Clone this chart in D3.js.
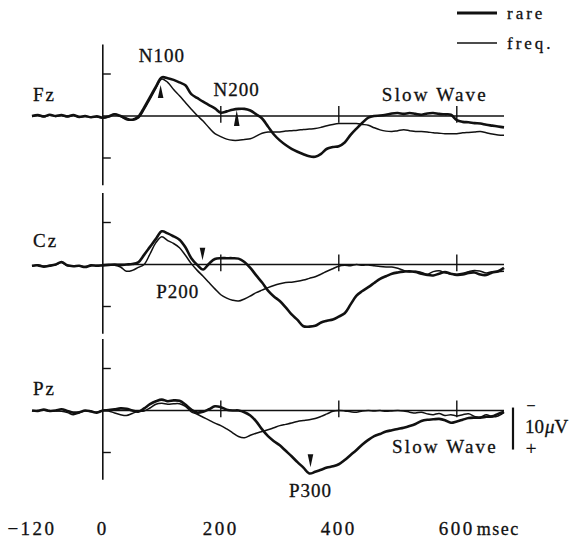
<!DOCTYPE html>
<html>
<head>
<meta charset="utf-8">
<script src="https://cdn.jsdelivr.net/npm/d3@7"></script>
<style>
  html, body { margin: 0; padding: 0; background: #fff; }
  svg text { font-family: 'Liberation Serif', 'Times New Roman', serif; fill: #111; stroke: #111; stroke-width: 0.3px; }
</style>
</head>
<body>
<div id="chart"></div>
<script>
// Sample times (msec) shared by every trace.
const timesMs = [-120, -110, -100, -90, -80, -70, -60, -50, -40, -30, -20, -10,
  0, 10, 20, 30, 40, 50, 60, 70, 80, 90,
  100, 110, 120, 130, 140, 150, 160, 170, 180, 190,
  200, 210, 220, 230, 240, 250, 260, 270, 280, 290,
  300, 310, 320, 330, 340, 350, 360, 370, 380, 390,
  400, 410, 420, 430, 440, 450, 460, 470, 480, 490,
  500, 510, 520, 530, 540, 550, 560, 570, 580, 590,
  600, 610, 620, 630, 640, 650, 660, 670, 680];

// Amplitudes in microvolts (negative up).
const fzRare = [0.0, -0.2, 0.1, -0.3, 0.0, -0.2, 0.1, -0.2, 0.2, 0.0, 0.3, 0.1,
  0.4, 0.1, -0.4, 0.0, 0.6, 0.9, 0.2, -2.0, -4.5, -7.0,
  -9.2, -9.0, -8.6, -8.0, -7.3, -5.2, -4.3, -3.4, -2.6, -1.8,
  -0.8, -1.1, -1.5, -1.7, -1.7, -1.3, -0.4, 0.6, 2.5, 4.4,
  5.8, 6.9, 7.8, 8.5, 9.1, 9.6, 9.7, 9.0, 7.8, 7.4,
  7.2, 6.3, 4.5, 3.0, 1.6, 0.4, 0.0, -0.1, -0.3, -0.6,
  -0.7, -0.5, -0.7, -0.5, -0.3, -0.6, -0.7, -0.5, -0.4, -0.3,
  1.0, 1.4, 1.5, 1.7, 1.8, 2.1, 2.3, 2.5, 2.7];
const fzFreq = [0.1, -0.1, 0.2, -0.2, 0.1, -0.1, 0.2, -0.1, 0.3, 0.1, 0.2, 0.2,
  0.5, 0.2, -0.5, 0.1, 0.9, 1.0, 0.5, -1.5, -4.0, -6.6,
  -8.8, -8.0, -6.3, -4.8, -3.2, -1.6, -0.1, 1.2, 2.8, 4.2,
  4.9, 5.5, 5.8, 5.8, 5.6, 5.4, 4.8, 4.1, 3.8, 3.8,
  3.8, 3.6, 3.5, 3.4, 3.2, 3.1, 3.0, 2.7, 2.3, 2.0,
  1.8, 1.8, 1.8, 1.8, 2.0, 2.2, 2.8, 3.3, 3.6, 3.7,
  3.5, 3.3, 3.5, 3.7, 3.7, 3.8, 4.0, 4.1, 4.2, 4.2,
  4.2, 4.0, 3.9, 3.8, 3.7, 4.0, 4.3, 4.5, 4.6];
const czRare = [0.3, 0.2, 0.5, 0.3, 0.0, -0.6, 0.2, 0.4, 0.3, 0.6, 0.2, 0.3,
  0.2, 0.1, 0.0, 0.1, 0.0, -0.1, -0.5, -2.3, -4.2, -6.1,
  -7.9, -7.4, -6.7, -5.9, -4.1, -1.5, 0.1, 1.2, -0.2, -1.3,
  -1.5, -1.5, -1.5, -1.4, -0.6, 0.8, 2.6, 4.3, 6.2, 7.6,
  8.7, 10.2, 11.9, 13.2, 14.7, 14.8, 14.6, 13.8, 13.4, 13.1,
  12.4, 11.6, 9.5, 7.4, 6.3, 5.4, 4.4, 3.4, 2.8, 2.2,
  1.9, 1.7, 1.6, 1.8, 2.2, 2.5, 2.6, 2.2, 1.8, 2.2,
  2.5, 2.4, 2.0, 1.9, 2.4, 2.5, 1.9, 1.6, 0.8];
const czFreq = [0.4, 0.1, 0.4, 0.2, 0.1, -0.5, 0.3, 0.3, 0.4, 0.5, 0.3, 0.2,
  0.2, 0.1, 0.2, 0.6, 1.6, 1.4, 0.7, 0.0, -2.5, -5.2,
  -6.6, -5.7, -5.0, -4.0, -2.2, -0.2, 1.4, 2.8, 4.3, 5.8,
  7.2, 8.0, 8.5, 8.7, 8.2, 7.5, 6.7, 6.1, 5.5, 5.0,
  4.6, 4.3, 4.2, 4.0, 3.7, 3.3, 2.9, 2.3, 1.6, 1.0,
  0.4, 0.2, 0.3, 0.0, 0.2, 0.1, 0.3, 0.5, 0.6, 0.6,
  0.9, 1.4, 1.8, 1.6, 1.9, 2.3, 1.7, 1.5, 2.0, 2.3,
  2.3, 2.1, 1.7, 1.4, 1.6, 2.0, 1.7, 1.7, 1.6];
const pzRare = [0.0, 0.1, -0.2, 0.1, 0.0, -0.3, 0.1, 0.5, 0.4, 0.0, 0.2, 0.5,
  0.0, -0.1, -0.3, -0.5, -0.4, 0.0, 0.3, -0.5, -1.5, -2.2,
  -2.6, -2.2, -2.4, -2.3, -1.4, -0.2, 0.5, 0.3, -0.3, -1.0,
  -0.8, -0.2, 0.0, 0.0, 0.4, 1.2, 2.6, 4.5, 6.1, 7.3,
  8.3, 9.6, 10.9, 12.3, 13.6, 15.0, 14.6, 14.1, 13.6, 13.3,
  12.8, 11.8, 10.6, 9.4, 8.1, 7.0, 6.1, 5.6, 5.0, 4.7,
  4.4, 4.1, 3.7, 3.2, 2.5, 2.2, 2.1, 2.0, 2.3, 2.9,
  2.6, 2.2, 1.8, 1.7, 1.7, 1.5, 1.4, 0.8, 0.3];
const pzFreq = [0.1, 0.0, -0.1, 0.2, 0.1, 0.2, 0.5, 1.0, 0.6, 0.1, 0.3, 0.4,
  0.0, 0.1, 0.6, 1.0, 1.2, 0.7, 0.2, 0.1, -0.6, -1.5,
  -1.7, -1.5, -1.6, -1.6, -1.0, 0.3, 0.9, 1.6, 2.3, 3.0,
  3.6, 4.4, 5.3, 6.2, 6.5, 5.9, 5.4, 5.0, 4.6, 4.1,
  3.6, 3.3, 3.0, 2.6, 2.4, 2.2, 1.9, 1.4, 0.8, 0.2,
  0.0, 0.1, 0.3, 0.4, 0.1, 0.0, 0.1, 0.0, 0.2, 0.1,
  0.0, 0.1, 0.4, 0.6, 0.4, 0.8, 1.0, 0.7, 1.2, 1.0,
  1.3, 1.0, 0.8, 1.4, 1.6, 1.0, 1.5, 1.3, 0.5];

const channels = ['Fz', 'Cz', 'Pz'];
const conditions = ['rare', 'freq.'];
const xTickValues = [-120, 0, 200, 400, 600];
const xTickLabels = ['\u2212120', '0', '200', '400', '600'];
const xUnit = 'msec';
const baselineTicks = [200, 400, 600];
const yTickValues = [-10, 10];
const scaleBarUv = 10;

// Component labels, anchored in msec / microvolts of their channel.
const peakLabels = [
  { channel: 'Fz', text: 'N100', t: 100, v: -12.9, anchor: 'middle' },
  { channel: 'Fz', text: 'N200', t: 227, v: -4.8, anchor: 'middle' },
  { channel: 'Fz', text: 'Slow Wave', t: 473, v: -3.6, anchor: 'start' },
  { channel: 'Cz', text: 'P200', t: 127, v: 8.0, anchor: 'middle' },
  { channel: 'Pz', text: 'P300', t: 352, v: 20.6, anchor: 'middle' },
  { channel: 'Pz', text: 'Slow Wave', t: 490, v: 10.1, anchor: 'start' }
];
const peakArrows = [
  { channel: 'Fz', t: 98, tip: -7.4, base: -4.3 },
  { channel: 'Fz', t: 227, tip: -1.4, base: 2.4 },
  { channel: 'Cz', t: 169, tip: -1.0, base: -4.0 },
  { channel: 'Pz', t: 352, tip: 13.5, base: 10.4 }
];

const traces = {
  Fz: [fzRare, fzFreq],
  Cz: [czRare, czFreq],
  Pz: [pzRare, pzFreq]
};

function chart() {
  const attrs = {
    container: '#chart',
    svgWidth: 573,
    svgHeight: 538,
    xRange: [32, 504],
    baselines: [116, 264.5, 410.5],
    pxPerUv: 4.2,
    axisExtent: [-17, 16.5],
    ink: '#111',
    strokeWidths: [2.6, 1.5],
    fontSize: 19
  };

  const svg = d3.select(attrs.container)
    .append('svg')
    .attr('width', attrs.svgWidth)
    .attr('height', attrs.svgHeight);

  const x = d3.scaleLinear()
    .domain([timesMs[0], timesMs[timesMs.length - 1]])
    .range(attrs.xRange);

  const yScales = {};
  channels.forEach((ch, i) => {
    const b = attrs.baselines[i];
    yScales[ch] = d3.scaleLinear()
      .domain([-10, 10])
      .range([b - 10 * attrs.pxPerUv, b + 10 * attrs.pxPerUv]);
  });

  channels.forEach((ch) => {
    const y = yScales[ch];
    const g = svg.append('g').attr('class', 'channel-' + ch);

    // Zero line with time marks.
    g.append('line')
      .attr('x1', x(0)).attr('x2', x(timesMs[timesMs.length - 1]))
      .attr('y1', y(0)).attr('y2', y(0))
      .attr('stroke', attrs.ink).attr('stroke-width', 1.3);

    g.selectAll('.t-tick').data(baselineTicks).enter().append('line')
      .attr('class', 't-tick')
      .attr('x1', d => x(d)).attr('x2', d => x(d))
      .attr('y1', y(-2.4)).attr('y2', y(1.6))
      .attr('stroke', attrs.ink).attr('stroke-width', 1.4);

    // Amplitude axis at stimulus onset.
    g.append('line')
      .attr('x1', x(0)).attr('x2', x(0))
      .attr('y1', y(attrs.axisExtent[0])).attr('y2', y(attrs.axisExtent[1]))
      .attr('stroke', attrs.ink).attr('stroke-width', 1.6);

    g.selectAll('.v-tick').data(yTickValues).enter().append('line')
      .attr('class', 'v-tick')
      .attr('x1', x(0)).attr('x2', x(0) + 8)
      .attr('y1', d => y(d)).attr('y2', d => y(d))
      .attr('stroke', attrs.ink).attr('stroke-width', 1.4);

    const line = d3.line()
      .x((d, i) => x(timesMs[i]))
      .y(d => y(d))
      .curve(d3.curveCatmullRom.alpha(0.5));

    // freq. first, rare on top.
    [1, 0].forEach((k) => {
      g.append('path')
        .datum(traces[ch][k])
        .attr('d', line)
        .attr('fill', 'none')
        .attr('stroke', attrs.ink)
        .attr('stroke-width', attrs.strokeWidths[k])
        .attr('stroke-linejoin', 'round');
    });

    g.append('text')
      .attr('x', x(timesMs[0]) + 1)
      .attr('y', y(ch === 'Cz' ? -4.2 : -3.6))
      .attr('font-size', attrs.fontSize)
      .attr('letter-spacing', 2)
      .text(ch);
  });

  // Arrows.
  peakArrows.forEach((a) => {
    const y = yScales[a.channel];
    const cx = x(a.t), ty = y(a.tip), by = y(a.base);
    svg.append('path')
      .attr('d', `M${cx},${ty} L${cx + 2.8},${by} L${cx - 2.8},${by} Z`)
      .attr('fill', attrs.ink);
  });

  // Component labels.
  peakLabels.forEach((l) => {
    svg.append('text')
      .attr('x', x(l.t))
      .attr('y', yScales[l.channel](l.v))
      .attr('text-anchor', l.anchor)
      .attr('font-size', attrs.fontSize)
      .attr('letter-spacing', l.text.length > 4 ? 2.2 : 1)
      .text(l.text);
  });

  // Time labels.
  const xAxisY = 535;
  xTickValues.forEach((t, i) => {
    const txt = svg.append('text')
      .attr('x', x(t))
      .attr('y', xAxisY)
      .attr('text-anchor', 'middle')
      .attr('font-size', attrs.fontSize)
      .attr('letter-spacing', 2.5)
      .text(xTickLabels[i]);
    if (i === xTickValues.length - 1) {
      const w = txt.node().getComputedTextLength();
      svg.append('text')
        .attr('x', x(t) + w / 2 + 2)
        .attr('y', xAxisY)
        .attr('font-size', attrs.fontSize - 1)
        .attr('letter-spacing', 1.5)
        .text(xUnit);
    }
  });

  // Calibration bar on the Pz row.
  const yPz = yScales.Pz;
  const barX = x(timesMs[timesMs.length - 1]) + 9;
  svg.append('line')
    .attr('x1', barX).attr('x2', barX)
    .attr('y1', yPz(-0.7)).attr('y2', yPz(-0.7 + scaleBarUv))
    .attr('stroke', attrs.ink).attr('stroke-width', 2.2);
  svg.append('text')
    .attr('x', barX + 18).attr('y', yPz(-0.7) + 3)
    .attr('text-anchor', 'middle').attr('font-size', 16)
    .text('\u2212');
  svg.append('text')
    .attr('x', barX + 18).attr('y', yPz(-0.7 + scaleBarUv) + 5)
    .attr('text-anchor', 'middle').attr('font-size', attrs.fontSize)
    .text('+');
  const cal = svg.append('text')
    .attr('x', barX + 12).attr('y', yPz(5.4))
    .attr('font-size', attrs.fontSize);
  cal.append('tspan').text(scaleBarUv);
  cal.append('tspan').attr('font-style', 'italic').attr('dx', 1).text('\u03bc');
  cal.append('tspan').text('V');

  // Legend.
  conditions.forEach((c, i) => {
    const ly = 13 + i * 30;
    svg.append('line')
      .attr('x1', 457).attr('x2', 497)
      .attr('y1', ly).attr('y2', ly)
      .attr('stroke', attrs.ink)
      .attr('stroke-width', attrs.strokeWidths[i] + 0.2);
    svg.append('text')
      .attr('x', 507).attr('y', ly + 6)
      .attr('font-size', 17)
      .attr('letter-spacing', 3)
      .text(c);
  });
}

chart();
</script>
</body>
</html>
